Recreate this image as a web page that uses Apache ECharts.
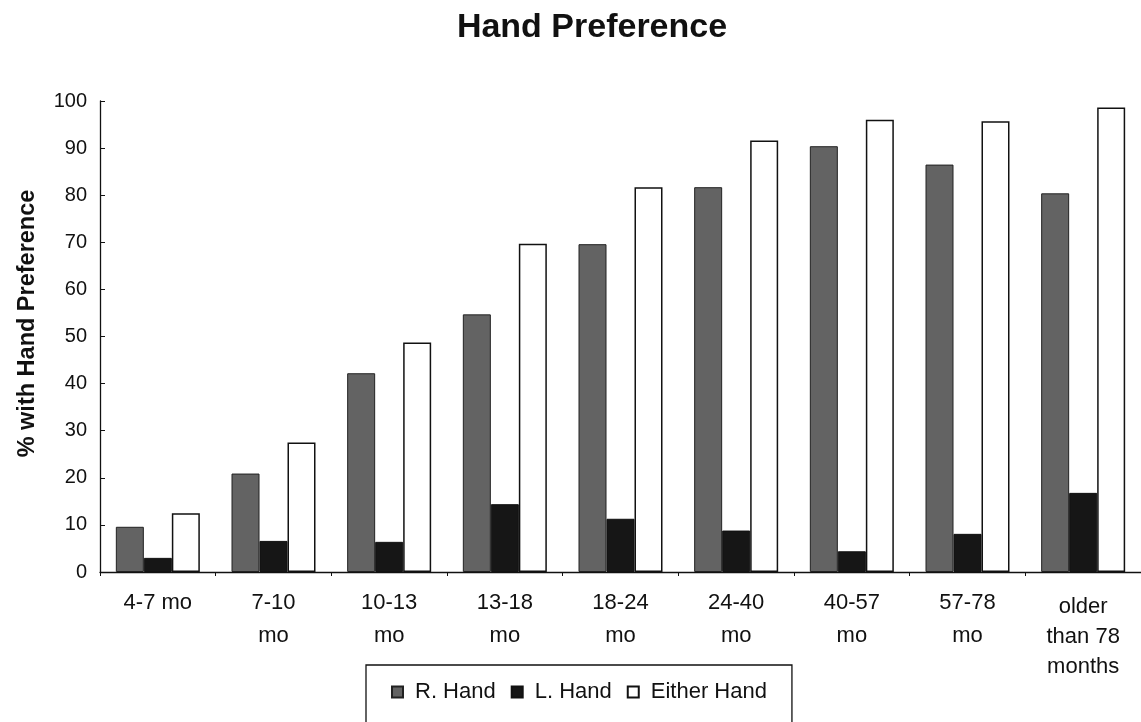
<!DOCTYPE html>
<html>
<head>
<meta charset="utf-8">
<script src="https://cdn.jsdelivr.net/npm/echarts@6/dist/echarts.min.js"></script>
<style>
html,body{margin:0;padding:0;background:#fff;}
#chart{width:1141px;height:722px;}
</style>
</head>
<body>
<div id="chart"></div>
<script>
var categories = ['4-7 mo', '7-10\nmo', '10-13\nmo', '13-18\nmo', '18-24\nmo', '24-40\nmo', '40-57\nmo', '57-78\nmo', 'older\nthan 78\nmonths'];
var rHand = [9.6, 20.9, 42.2, 54.7, 69.6, 81.7, 90.4, 86.5, 80.4];
var lHand = [3.0, 6.6, 6.4, 14.4, 11.3, 8.8, 4.4, 8.1, 16.8];
var eitherHand = [12.5, 27.5, 48.7, 69.7, 81.7, 91.6, 96.0, 95.7, 98.6];
var yTicks = [0, 10, 20, 30, 40, 50, 60, 70, 80, 90, 100];

var FONT = '"Liberation Sans", Arial, sans-serif';

var categoryItems = categories.map(function (c) {
  var lines = c.split('\n').length;
  if (lines >= 3) {
    return {value: c, textStyle: {lineHeight: 30, padding: [6, 0, 0, 0]}};
  }
  return c;
});

var chart = echarts.init(document.getElementById('chart'), null, {renderer: 'canvas'});
chart.setOption({
  backgroundColor: '#ffffff',
  animation: false,
  textStyle: {fontFamily: FONT, color: '#111'},
  title: {
    text: 'Hand Preference',
    left: 587,
    top: 6,
    textAlign: 'center',
    textStyle: {fontFamily: FONT, fontWeight: 'bold', fontSize: 34, color: '#111'}
  },
  legend: {
    left: 366,
    top: 665,
    orient: 'horizontal',
    borderColor: '#111',
    borderWidth: 1.3,
    padding: [16, 25, 40, 25],
    itemWidth: 11,
    itemHeight: 11,
    itemGap: 15,
    icon: 'rect',
    textStyle: {fontFamily: FONT, fontSize: 22, color: '#111', padding: [0, 0, 0, 7]},
    data: ['R. Hand', 'L. Hand', 'Either Hand']
  },
  grid: {left: 100, top: 101, height: 471, width: 1047, containLabel: false},
  xAxis: {
    type: 'category',
    data: categoryItems,
    axisLine: {lineStyle: {color: '#111', width: 1.3}},
    axisTick: {show: true, length: 4, lineStyle: {color: '#111'}},
    axisLabel: {
      interval: 0,
      margin: 14,
      fontFamily: FONT,
      fontSize: 22,
      lineHeight: 33,
      color: '#111',
      align: 'center'
    }
  },
  yAxis: {
    type: 'value',
    min: yTicks[0],
    max: yTicks[yTicks.length - 1],
    interval: 10,
    name: '% with Hand Preference',
    nameLocation: 'middle',
    nameGap: 60,
    nameRotate: 90,
    nameTextStyle: {fontFamily: FONT, fontWeight: 'bold', fontSize: 23.5, color: '#111', padding: [0, 0, 0, 26]},
    axisLine: {show: true, lineStyle: {color: '#111', width: 1.3}},
    axisTick: {show: true, inside: true, length: 5, lineStyle: {color: '#111'}},
    splitLine: {show: false},
    axisLabel: {fontFamily: FONT, fontSize: 20, color: '#111', margin: 13}
  },
  series: [
    {
      name: 'R. Hand',
      type: 'bar',
      data: rHand,
      barWidth: 28,
      barGap: '0%',
      itemStyle: {color: '#636363', borderColor: '#222', borderWidth: 1}
    },
    {
      name: 'L. Hand',
      type: 'bar',
      data: lHand,
      barWidth: 28,
      barGap: '0%',
      itemStyle: {color: '#161616', borderColor: '#111', borderWidth: 1}
    },
    {
      name: 'Either Hand',
      type: 'bar',
      data: eitherHand,
      barWidth: 28,
      barGap: '0%',
      itemStyle: {color: '#ffffff', borderColor: '#111', borderWidth: 1.5}
    }
  ]
});
</script>
</body>
</html>
